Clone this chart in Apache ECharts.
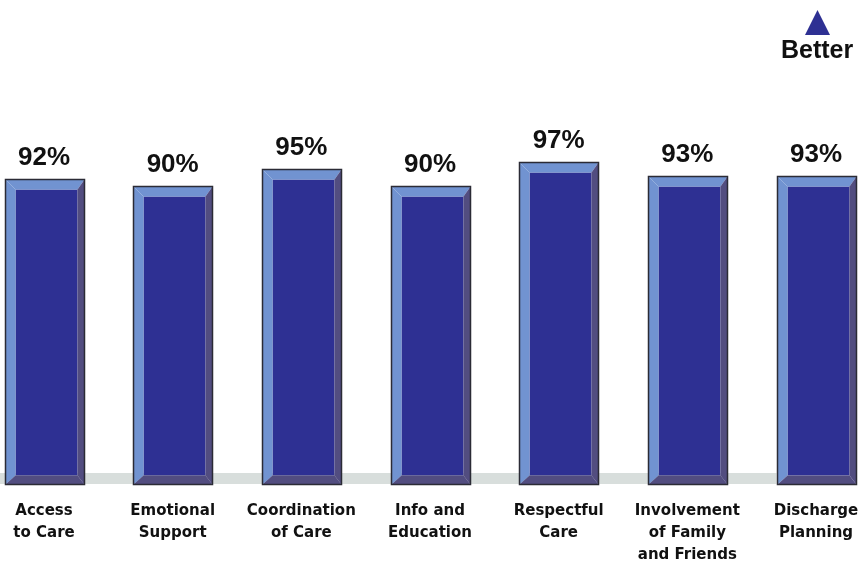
<!DOCTYPE html>
<html>
<head>
<meta charset="utf-8">
<script src="https://cdn.jsdelivr.net/npm/echarts@6/dist/echarts.min.js"></script>
<style>
  html, body { margin: 0; padding: 0; background: #ffffff; }
  #chart { width: 866px; height: 561px; }
</style>
</head>
<body>
<div id="chart"></div>
<script>
// Patient-experience domains and their positive scores (%)
const categories = [
  'Access\nto Care',
  'Emotional\nSupport',
  'Coordination\nof Care',
  'Info and\nEducation',
  'Respectful\nCare',
  'Involvement\nof Family\nand Friends',
  'Discharge\nPlanning'
];
const scores = [92, 90, 95, 90, 97, 93, 93];

const COLORS = {
  face: '#2e3093',
  light: '#7193d1',
  dark: '#524d80',
  edge: '#2b2b35',
  floor: '#d8dedc'
};
const BAR_W = 79;
const BEVEL = { l: 10, t: 10, r: 7, b: 9 };

// Bevelled bar: light top/left faces, dark right/bottom faces, value label above
function renderBevelBar(params, api) {
  const idx = api.value(0);
  const v = api.value(1);
  const top = api.coord([idx, v]);
  const base = api.coord([idx, 0]);
  const x0 = Math.round(top[0] - BAR_W / 2) + 0.5;
  const x1 = x0 + BAR_W;
  const y0 = Math.round(top[1]) + 0.5;
  const y1 = Math.round(base[1]) + 0.5;
  const L = BEVEL.l, T = BEVEL.t, R = BEVEL.r, B = BEVEL.b;
  const poly = (pts, fill) => ({ type: 'polygon', shape: { points: pts }, style: { fill: fill } });
  return {
    type: 'group',
    children: [
      { type: 'rect', shape: { x: x0 + L, y: y0 + T, width: BAR_W - L - R, height: y1 - y0 - T - B }, style: { fill: COLORS.face } },
      poly([[x0, y0], [x1, y0], [x1 - R, y0 + T], [x0 + L, y0 + T]], COLORS.light),
      poly([[x0, y0], [x0 + L, y0 + T], [x0 + L, y1 - B], [x0, y1]], COLORS.light),
      poly([[x1, y0], [x1, y1], [x1 - R, y1 - B], [x1 - R, y0 + T]], COLORS.dark),
      poly([[x0, y1], [x1, y1], [x1 - R, y1 - B], [x0 + L, y1 - B]], COLORS.dark),
      { type: 'rect', shape: { x: x0, y: y0, width: BAR_W, height: y1 - y0 }, style: { fill: null, stroke: COLORS.edge, lineWidth: 1.5 } },
      {
        type: 'text',
        style: {
          x: top[0], y: y0 - 22,
          text: v + '%',
          fill: '#111111',
          font: 'bold 26px "Liberation Sans", Arial, sans-serif',
          textAlign: 'center', textVerticalAlign: 'middle'
        }
      }
    ]
  };
}

const chart = echarts.init(document.getElementById('chart'), null, { renderer: 'canvas' });

chart.setOption({
  animation: false,
  grid: { left: 44, right: 50, top: 152.5, bottom: 77, containLabel: false, outerBoundsMode: 'none' },
  xAxis: {
    type: 'category',
    data: categories,
    boundaryGap: false,
    axisLine: { show: false },
    axisTick: { show: false },
    axisLabel: {
      interval: 0,
      margin: 16,
      color: '#111111',
      fontFamily: '"DejaVu Sans", sans-serif',
      fontWeight: 'bold',
      fontSize: 15,
      lineHeight: 22,
      verticalAlign: 'top'
    }
  },
  yAxis: { type: 'value', min: 0, max: 100, show: false, splitLine: { show: false } },
  series: [{
    type: 'custom',
    renderItem: renderBevelBar,
    data: scores.map((v, i) => [i, v]),
    z: 3
  }]
});

// Floor strip behind the bars, plus the "Better" direction marker
const floorY = chart.convertToPixel({ gridIndex: 0 }, [0, 0])[1];
const lastLeft = chart.convertToPixel({ gridIndex: 0 }, [categories.length - 1, 0])[0] - BAR_W / 2;
chart.setOption({
  graphic: [
    { type: 'rect', z: 1, shape: { x: 0, y: floorY - 11, width: lastLeft, height: 11 }, style: { fill: COLORS.floor } },
    { type: 'polygon', shape: { points: [[817.5, 10], [830, 35], [805, 35]] }, style: { fill: COLORS.face } },
    {
      type: 'text', left: 781, top: 39,
      style: { text: 'Better', fill: '#111111', font: 'bold 25px "Liberation Sans", Arial, sans-serif' }
    }
  ]
});
</script>
</body>
</html>
